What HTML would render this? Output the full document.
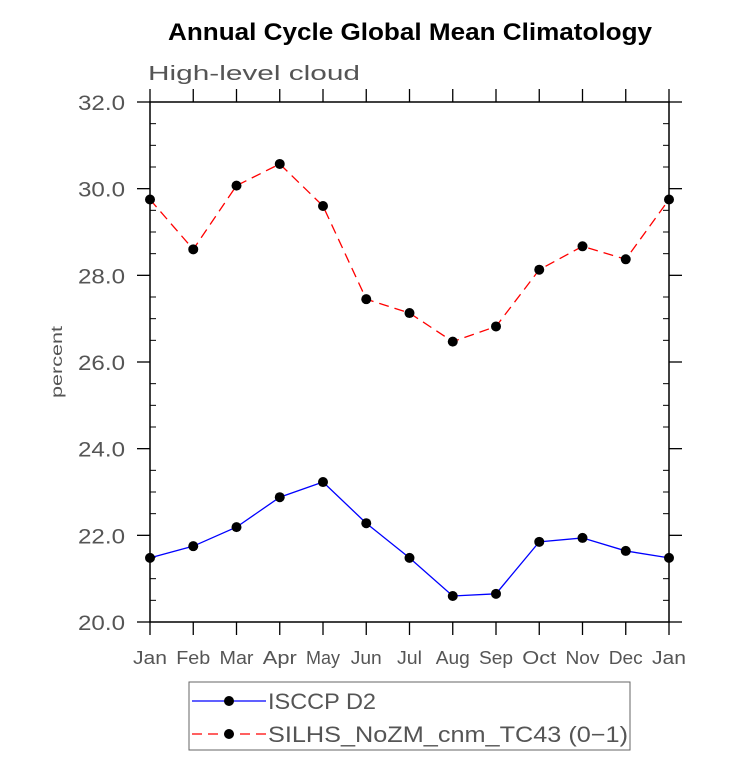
<!DOCTYPE html>
<html><head><meta charset="utf-8"><style>
body{margin:0;background:#fff;}
svg text{font-family:"Liberation Sans",sans-serif;}
</style></head><body>
<svg width="733" height="757" xmlns="http://www.w3.org/2000/svg">
<text x="168" y="40" font-size="24" font-weight="bold" textLength="484" lengthAdjust="spacingAndGlyphs">Annual Cycle Global Mean Climatology</text>
<text x="148" y="80" font-size="20" fill="#555" textLength="212" lengthAdjust="spacingAndGlyphs">High-level cloud</text>
<text transform="translate(62,362) rotate(-90)" text-anchor="middle" font-size="16" fill="#555" textLength="72" lengthAdjust="spacingAndGlyphs">percent</text>
<g id="axes"></g>
<g id="series"></g>
<g>
<rect x="189" y="682" width="441" height="68" fill="#fff" stroke="#666"/>
<g>
<line x1="192" y1="701" x2="266" y2="701" stroke="#00f" stroke-width="1.3"/>
<circle cx="229" cy="701" r="5"/>
<text x="268" y="709" font-size="22" fill="#555" textLength="108" lengthAdjust="spacingAndGlyphs">ISCCP D2</text></g>
<g>
<line x1="192" y1="734" x2="266" y2="734" stroke="#f00" stroke-width="1.3" stroke-dasharray="10,6"/>
<circle cx="229" cy="734" r="5"/>
<text x="268" y="742" font-size="22" fill="#555" textLength="360" lengthAdjust="spacingAndGlyphs">SILHS_NoZM_cnm_TC43 (0−1)</text></g>
</g>
</svg>
<script>
const months=["Jan","Feb","Mar","Apr","May","Jun","Jul","Aug","Sep","Oct","Nov","Dec","Jan"];
const yTicks=["20.0","22.0","24.0","26.0","28.0","30.0","32.0"];
const isccp=[21.48,21.75,22.19,22.88,23.23,22.28,21.48,20.6,20.65,21.85,21.94,21.64,21.48];
const silhs=[29.75,28.6,30.07,30.57,29.6,27.45,27.13,26.47,26.82,28.13,28.67,28.37,29.75];
const L=150,R=669,T=102,B=622,ymin=20,ymax=32;
const xs=i=>L+(R-L)*i/(months.length-1);
const ys=v=>B-(v-ymin)/(ymax-ymin)*(B-T);
const NS="http://www.w3.org/2000/svg";
function mk(tag,attrs,parent){const e=document.createElementNS(NS,tag);for(const k in attrs)e.setAttribute(k,attrs[k]);parent.appendChild(e);return e;}
const ax=document.getElementById('axes');
const frame=mk('rect',{x:L,y:T,width:R-L,height:B-T,fill:'none',stroke:'#000','stroke-width':1.5},ax);


months.forEach((m,i)=>{const x=xs(i);
mk('line',{x1:x,y1:B,x2:x,y2:B+13,stroke:'#000','stroke-width':1.3},ax);
mk('line',{x1:x,y1:T,x2:x,y2:T-13,stroke:'#000','stroke-width':1.3},ax);
const w=(m==="Jul")?25:(m==="Jun"?31:34);
const t=mk('text',{x:x,y:B+42,'text-anchor':'middle','font-size':18,fill:'#555',textLength:w,lengthAdjust:'spacingAndGlyphs'},ax);t.textContent=m;

});
for(let v=ymin;v<=ymax+1e-9;v+=0.5){const y=ys(v);const major=Math.abs(v/2-Math.round(v/2))<1e-9;
if(major){mk('line',{x1:L-13,y1:y,x2:L,y2:y,stroke:'#000','stroke-width':1.3},ax);mk('line',{x1:R,y1:y,x2:R+13,y2:y,stroke:'#000','stroke-width':1.3},ax);}
else{mk('line',{x1:L,y1:y,x2:L+6,y2:y,stroke:'#000','stroke-width':1},ax);mk('line',{x1:R-6,y1:y,x2:R,y2:y,stroke:'#000','stroke-width':1},ax);}}
yTicks.forEach(s=>{const t=mk('text',{x:L-25,y:ys(parseFloat(s))+8,'text-anchor':'end','font-size':21,fill:'#555',textLength:47,lengthAdjust:'spacingAndGlyphs'},ax);t.textContent=s;

});
const sg=document.getElementById('series');
function series(vals,color,dash,name){
const p=mk('polyline',{points:vals.map((v,i)=>xs(i)+','+ys(v)).join(' '),fill:'none',stroke:color,'stroke-width':1.3,'stroke-dasharray':dash},sg);


vals.forEach((v,i)=>{const c=mk('circle',{cx:xs(i),cy:ys(v),r:5,fill:'#000'},sg);

});}
series(isccp,'#00f','none','isccp');
series(silhs,'#f00','10,6','silhs');
</script>
</body></html>
